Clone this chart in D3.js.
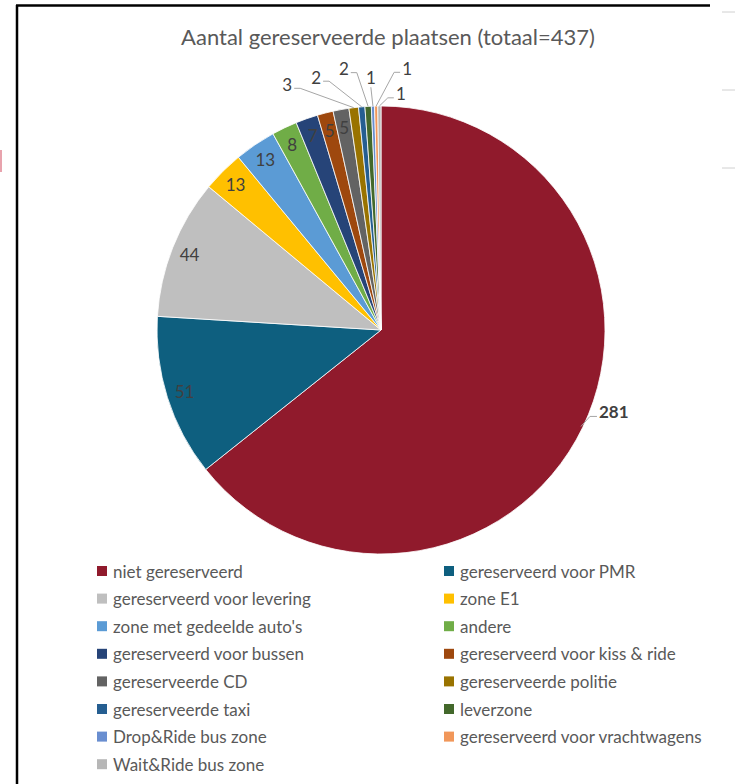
<!DOCTYPE html>
<html lang="nl">
<head>
<meta charset="utf-8">
<title>Aantal gereserveerde plaatsen</title>
<script src="https://cdn.jsdelivr.net/npm/d3@7"></script>
<style>
    body { margin: 0; background: #fff; }
    svg text { font-family: Lato, "Open Sans", sans-serif; }
    .title { fill: #595959; font-size: 22px; }
    .slice { stroke: #fff; stroke-width: 0.8; }
    .lbl { fill: #404040; font-size: 17px; }
    .leader { fill: none; stroke: #a6a6a6; stroke-width: 1; }
    .legend text { fill: #595959; font-size: 17px; }
</style>
</head>
<body>
<div id="chart"></div>
<script>
// data
const categories = ["niet gereserveerd", "gereserveerd voor PMR", "gereserveerd voor levering",
    "zone E1", "zone met gedeelde auto's", "andere", "gereserveerd voor bussen",
    "gereserveerd voor kiss & ride", "gereserveerde CD", "gereserveerde politie",
    "gereserveerde taxi", "leverzone", "Drop&Ride bus zone",
    "gereserveerd voor vrachtwagens", "Wait&Ride bus zone"];
const values = [281, 51, 44, 13, 13, 8, 7, 5, 5, 3, 2, 2, 1, 1, 1];
const colours = ["#901a2c", "#0e5f7f", "#bfbfbf", "#ffc000", "#5b9bd5", "#70ad47", "#264478",
    "#9e480e", "#636363", "#997300", "#255e91", "#43682b", "#698ed0", "#f1975a", "#b7b7b7"];
const total = d3.sum(values);

const WIDTH = 735, HEIGHT = 784;
const CX = 381, CY = 330, R = 224;

// labels for the thin slices sit outside, fanned out above the pie (angle in degrees, radius)
const callouts = {
    9: [-20.9, 263], 10: [-14.4, 261], 11: [-8.1, 264],
    12: [-2.3, 253], 13: [5.7, 263], 14: [4.8, 237]
};

let svg = d3.select("#chart").append("svg")
    .attr("width", WIDTH)
    .attr("height", HEIGHT);

// frame of the screenshot
svg.append("line").attr("x1", 17).attr("y1", 5).attr("x2", 17).attr("y2", HEIGHT)
    .attr("stroke", "#000").attr("stroke-width", 2.5);
svg.append("line").attr("x1", 16).attr("y1", 5.5).attr("x2", 710).attr("y2", 5.5)
    .attr("stroke", "#000").attr("stroke-width", 2.5);
for (let y of [12, 90, 168]) {
    svg.append("line").attr("x1", 722).attr("x2", 735).attr("y1", y).attr("y2", y)
        .attr("stroke", "#d0d0d0").attr("stroke-width", 1);
}
svg.append("rect").attr("x", 0).attr("y", 150).attr("width", 2).attr("height", 22).attr("fill", "#e8a3ad");

svg.append("text")
    .attr("class", "title")
    .attr("x", 388)
    .attr("y", 45)
    .attr("text-anchor", "middle")
    .text("Aantal gereserveerde plaatsen (totaal=" + total + ")");

let pie = d3.pie().sort(null).value(d => d);
let arcs = pie(values);
let arc = d3.arc().innerRadius(0).outerRadius(R);

let g = svg.append("g").attr("transform", "translate(" + CX + "," + CY + ")");

g.selectAll(".slice")
    .data(arcs)
    .enter()
    .append("path")
    .attr("class", "slice")
    .attr("d", arc)
    .attr("fill", (d, i) => colours[i]);

function polar(a, r) {
    return [r * Math.sin(a), -r * Math.cos(a)];
}

// inside labels
arcs.forEach(function (d, i) {
    if (i === 0 || callouts[i]) return;
    let mid = (d.startAngle + d.endAngle) / 2;
    let p = polar(mid, 206);
    g.append("text")
        .attr("class", "lbl")
        .attr("x", p[0])
        .attr("y", p[1])
        .attr("text-anchor", "middle")
        .attr("dominant-baseline", "central")
        .text(d.data);
});

// big slice: bold label at the right with a short leader
(function () {
    let d = arcs[0];
    let mid = (d.startAngle + d.endAngle) / 2;
    let e = polar(mid, R - 2);
    g.append("path")
        .attr("class", "leader")
        .attr("d", d3.line()([[e[0], e[1]], [e[0] + 9, e[1] - 10], [e[0] + 16, e[1] - 10]]));
    g.append("text")
        .attr("class", "lbl")
        .attr("x", e[0] + 18)
        .attr("y", e[1] - 15)
        .attr("font-weight", "bold")
        .attr("dominant-baseline", "central")
        .text(d.data);
})();

// callout labels for the thin slices
Object.keys(callouts).forEach(function (k) {
    let d = arcs[k];
    let mid = (d.startAngle + d.endAngle) / 2;
    let e = polar(mid, R);
    let lp = polar(callouts[k][0] * Math.PI / 180, callouts[k][1]);
    let pts;
    if (Math.abs(lp[0] - e[0]) < 4) {
        pts = [[lp[0], lp[1] + 10], [e[0], e[1]]];
    } else {
        let s = Math.sign(e[0] - lp[0]);
        pts = [[lp[0] + s * 7, lp[1] + 4], [lp[0] + s * 13, lp[1] + 4], [e[0], e[1]]];
    }
    g.append("path").attr("class", "leader").attr("d", d3.line()(pts));
    g.append("text")
        .attr("class", "lbl")
        .attr("x", lp[0])
        .attr("y", lp[1])
        .attr("text-anchor", "middle")
        .attr("dominant-baseline", "central")
        .text(d.data);
});

// legend, two columns
let legend = svg.selectAll(".legend")
    .data(categories)
    .enter()
    .append("g")
    .attr("class", "legend")
    .attr("transform", function (d, i) {
        let col = i % 2, row = Math.floor(i / 2);
        return "translate(" + (col === 0 ? 97 : 444) + "," + (571 + row * 27.6) + ")";
    });

legend.append("rect")
    .attr("x", 0)
    .attr("y", -5)
    .attr("width", 10)
    .attr("height", 10)
    .attr("fill", (d, i) => colours[i]);

legend.append("text")
    .attr("x", 16)
    .attr("y", 0)
    .attr("dominant-baseline", "central")
    .text(d => d);
</script>
</body>
</html>
